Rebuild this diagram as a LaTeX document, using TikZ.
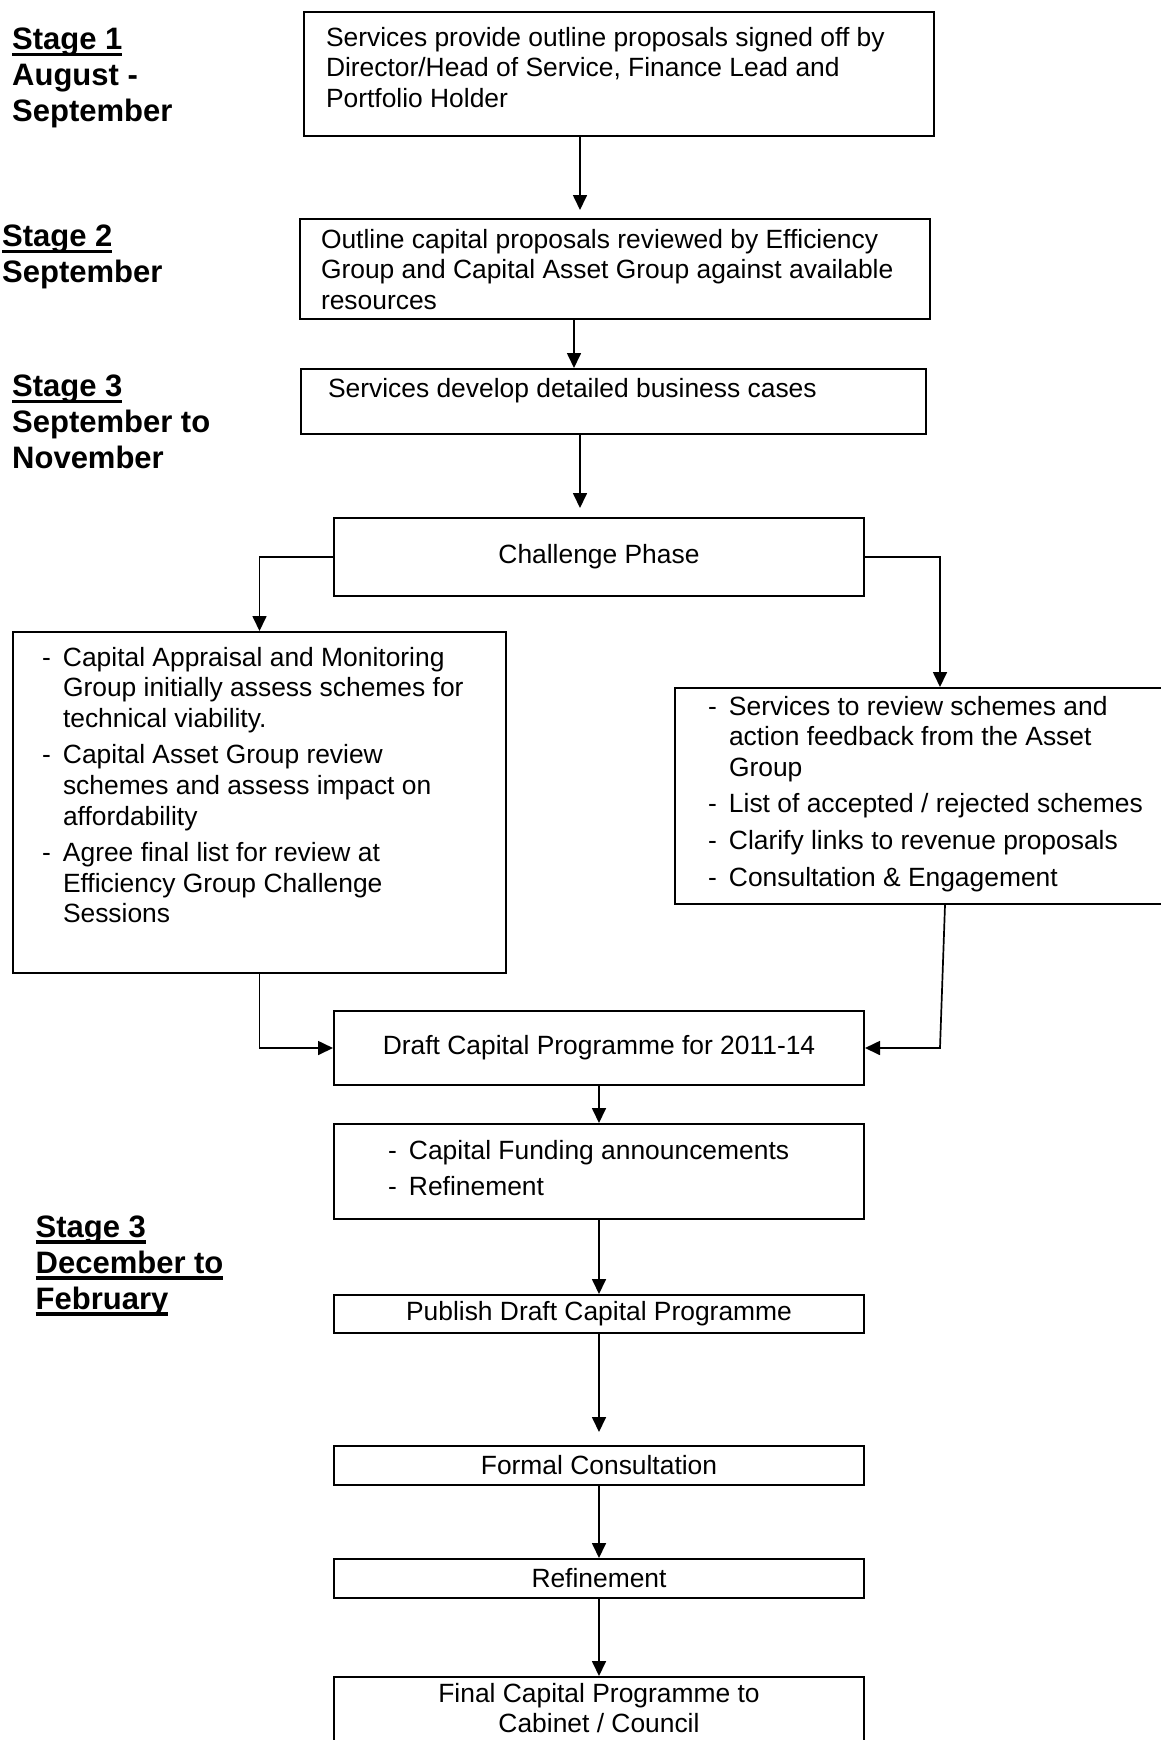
\documentclass[tikz,border=0pt]{standalone}
\usepackage{fontspec}
\setmainfont{Liberation Sans}
\usetikzlibrary{arrows.meta,positioning,calc}

\newcommand{\boxtext}[3]{\parbox[c][#2][t]{#1}{\raggedright\strut #3}}
\newcommand{\listbox}[3]{\parbox[c][#2][t]{#1}{\raggedright\parskip=6pt #3}}
\newcommand{\bitem}[1]{\par\hangindent=21pt\hangafter=1\noindent\strut\makebox[21pt][l]{-}#1}
\newcommand{\stagetext}[1]{\parbox[t]{260pt}{\strut #1}}
\newcommand{\stageline}[1]{\setbox0\hbox{#1}\rlap{\rule[-6.5pt]{\wd0}{3.5pt}}\box0}

\begin{document}
\begin{tikzpicture}[x=1pt, y=-1pt, >={Triangle[length=15pt,width=14pt]},
    font=\fontsize{26.4}{30.6}\selectfont,
    b/.style={draw, line width=2pt, anchor=north west, inner sep=0pt},
    c/.style={b, minimum width=530pt, align=center},
    stg/.style={anchor=north west, inner sep=0pt, font=\fontsize{31}{36}\selectfont\bfseries},
    l/.style={->, line width=1.7pt}]
  \useasboundingbox (0,0) rectangle (1161,1740);

  % stage labels
  \node[stg] (st1) at (12,24.5) {\stagetext{\stageline{Stage 1}\\ August -\\ September}};
  \node[stg] (st2) at (2,221.5) {\stagetext{\stageline{Stage 2}\\ September}};
  \node[stg] (st3) at (12,371.5) {\stagetext{\stageline{Stage 3}\\ September to\\ November}};
  \node[stg] (st4) at (35.5,1212) {\stagetext{\stageline{Stage 3}\\ \stageline{December to}\\ \stageline{February}}};

  % boxes
  \node[b, inner xsep=22pt, inner ysep=12.6pt] (s1) at (303,11)
    {\boxtext{586pt}{98.8pt}{Services provide outline proposals signed off by\\ Director/Head of Service, Finance Lead and\\ Portfolio Holder}};
  \node[b, inner xsep=21pt, inner ysep=7.6pt] (s2) at (299,218)
    {\boxtext{588pt}{84.8pt}{Outline capital proposals reviewed by Efficiency\\ Group and Capital Asset Group against available\\ resources}};
  \node[b, inner xsep=27pt, inner ysep=6.6pt] (s3) at (300,368)
    {\boxtext{571pt}{51.8pt}{Services develop detailed business cases}};
  \node[c, minimum height=78pt] (ch) at (333,517) {Challenge Phase};
  \node[b, inner xsep=29pt, inner ysep=12.6pt] (lb) at (12,631)
    {\listbox{435pt}{315.8pt}{%
      \bitem{Capital Appraisal and Monitoring\newline Group initially assess schemes for\newline technical viability.}
      \bitem{Capital Asset Group review\newline schemes and assess impact on\newline affordability}
      \bitem{Agree final list for review at\newline Efficiency Group Challenge\newline Sessions}}};
  \node[b, inner xsep=33pt, inner ysep=5.6pt] (rb) at (674,687)
    {\listbox{445pt}{204.8pt}{%
      \bitem{Services to review schemes and\newline action feedback from the Asset\newline Group}
      \bitem{List of accepted / rejected schemes}
      \bitem{Clarify links to revenue proposals}
      \bitem{Consultation \& Engagement}}};
  \node[c, minimum height=74pt] (dr) at (333,1010) {Draft Capital Programme for 2011-14};
  \node[b, inner xsep=54pt, inner ysep=13.6pt] (fu) at (333,1123)
    {\listbox{422pt}{67.8pt}{\bitem{Capital Funding announcements}\bitem{Refinement}}};
  \node[c, minimum height=38pt] (pu) at (333,1294) {Publish Draft Capital Programme};
  \node[c, minimum height=39pt] (fo) at (333,1445) {Formal Consultation};
  \node[c, minimum height=39pt] (re) at (333,1558) {Refinement};
  \node[b, inner xsep=10pt, inner ysep=3.6pt] (fi) at (333,1676)
    {\boxtext{510pt}{100pt}{\centering Final Capital Programme to\\ Cabinet / Council}};

  % connectors
  \coordinate (ax) at (580,0);
  \coordinate (bx) at (574,0);
  \coordinate (rx) at (940,0);
  \coordinate (ry) at (945,0);
  \draw[l, shorten >=8pt] (s1.south -| ax) -- (s2.north -| ax);
  \draw[l] (s2.south -| bx) -- (s3.north -| bx);
  \draw[l, shorten >=9pt] (s3.south -| ax) -- (ch.north -| ax);
  \draw[l] (ch.west) -| (lb.north);
  \draw[l] (ch.east) -| (rb.north -| rx);
  \draw[l] (lb.south) |- (dr.west);
  \draw[l] (rb.south -| ry) -- (rx |- dr.east) -- (dr.east);
  \draw[l] (dr) -- (fu);
  \draw[l] (fu) -- (pu);
  \draw[l, shorten >=13pt] (pu) -- (fo);
  \draw[l] (fo) -- (re);
  \draw[l] (re) -- (fi);
\end{tikzpicture}
\end{document}
